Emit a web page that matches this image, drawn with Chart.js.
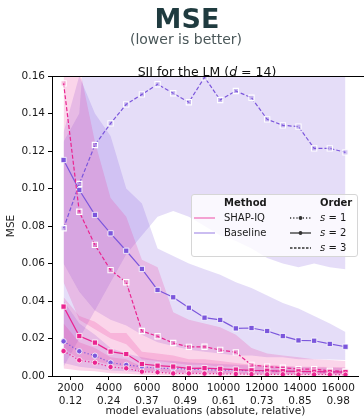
<!DOCTYPE html>
<html><head><meta charset="utf-8">
<script src="https://cdn.jsdelivr.net/npm/chart.js@4.4.1/dist/chart.umd.min.js"></script>
<style>
html,body{margin:0;padding:0;background:#fff;}
#wrap{position:relative;width:364px;height:416px;overflow:hidden;font-family:"DejaVu Sans",sans-serif;}
#c{position:absolute;left:0;top:0;}
.txt{position:absolute;white-space:nowrap;transform:translateX(-50%);line-height:1;}
#t1{left:187px;top:5px;font-size:27px;font-weight:bold;color:#1f3b3f;}
#t2{left:186px;top:32px;font-size:14px;color:#4a5759;}
#t3{left:207px;top:66px;font-size:12.5px;color:#111;}
#legend{position:absolute;left:191px;top:194px;width:167px;height:63px;box-sizing:border-box;background:rgba(255,255,255,0.8);border:1px solid #d6d6d6;border-radius:3px;font-size:10px;color:#1a1a1a;}
.li{position:absolute;white-space:nowrap;line-height:1;}
.hd{font-weight:bold;}
svg.smp{position:absolute;overflow:visible;}
</style></head>
<body><div id="wrap">
<canvas id="c" width="364" height="416"></canvas>
<div class="txt" id="t1">MSE</div>
<div class="txt" id="t2">(lower is better)</div>
<div class="txt" id="t3">SII for the LM (<i>d</i> = 14)</div>
<div id="legend"></div>
</div>
<script>
// ---------- data ----------
const budgets = [1638, 2458, 3277, 4096, 4915, 5734, 6554, 7373, 8192, 9011, 9830, 10650, 11469, 12288, 13107, 13926, 14746, 15565, 16384];
const xTickAbs = [2000, 4000, 6000, 8000, 10000, 12000, 14000, 16000];
const xTickRel = ['0.12', '0.24', '0.37', '0.49', '0.61', '0.73', '0.85', '0.98'];
const yTicks = [0, 0.02, 0.04, 0.06, 0.08, 0.10, 0.12, 0.14, 0.16];
const methods = ['SHAP-IQ', 'Baseline'];
const orders = ['1', '2', '3'];

const shapiqS1 = [0.0133, 0.0084, 0.0071, 0.0048, 0.0041, 0.0023, 0.0020, 0.0014, 0.0014, 0.0013, 0.0012, 0.0011, 0.0010, 0.0009, 0.0009, 0.0008, 0.0008, 0.0008, 0.0007];
const shapiqS2 = [0.0370, 0.0213, 0.0178, 0.0130, 0.0117, 0.0064, 0.0055, 0.0050, 0.0041, 0.0042, 0.0038, 0.0034, 0.0030, 0.0028, 0.0026, 0.0025, 0.0023, 0.0022, 0.0021];
const shapiqS3 = [0.1561, 0.0876, 0.0699, 0.0565, 0.0500, 0.0240, 0.0212, 0.0176, 0.0155, 0.0156, 0.0139, 0.0126, 0.0059, 0.0050, 0.0044, 0.0037, 0.0037, 0.0028, 0.0025];
const baselineS1 = [0.0185, 0.0132, 0.0108, 0.0071, 0.0059, 0.0050, 0.0041, 0.0041, 0.0036, 0.0034, 0.0032, 0.0030, 0.0028, 0.0026, 0.0025, 0.0024, 0.0023, 0.0022, 0.0022];
const baselineS2 = [0.1152, 0.0992, 0.0859, 0.0761, 0.0668, 0.0571, 0.0459, 0.0420, 0.0364, 0.0311, 0.0299, 0.0254, 0.0256, 0.0240, 0.0213, 0.0190, 0.0188, 0.0171, 0.0156];
const baselineS3 = [0.0788, 0.1024, 0.1232, 0.1347, 0.1449, 0.1502, 0.1556, 0.1508, 0.1460, 0.1593, 0.1472, 0.1520, 0.1484, 0.1369, 0.1337, 0.1330, 0.1214, 0.1214, 0.1193];

// uncertainty bands (lower / upper)
const shapiqS1Lo = [0.0040, 0.0030, 0.0025, 0.0015, 0.0012, 0.0007, 0.0006, 0.0004, 0.0004, 0.0004, 0.0003, 0.0003, 0.0003, 0.0003, 0.0003, 0.0002, 0.0002, 0.0002, 0.0002];
const shapiqS1Hi = [0.0280, 0.0180, 0.0150, 0.0100, 0.0090, 0.0050, 0.0045, 0.0035, 0.0030, 0.0030, 0.0028, 0.0025, 0.0022, 0.0020, 0.0020, 0.0018, 0.0018, 0.0017, 0.0016];
const shapiqS2Lo = [0.0150, 0.0090, 0.0080, 0.0060, 0.0050, 0.0030, 0.0025, 0.0020, 0.0018, 0.0018, 0.0016, 0.0015, 0.0013, 0.0012, 0.0011, 0.0011, 0.0010, 0.0010, 0.0009];
const shapiqS2Hi = [0.0420, 0.0320, 0.0290, 0.0230, 0.0230, 0.0130, 0.0120, 0.0110, 0.0090, 0.0090, 0.0080, 0.0070, 0.0060, 0.0060, 0.0055, 0.0050, 0.0050, 0.0048, 0.0045];
const shapiqS3Lo = [0.0500, 0.0300, 0.0250, 0.0200, 0.0170, 0.0090, 0.0080, 0.0070, 0.0060, 0.0060, 0.0050, 0.0050, 0.0025, 0.0020, 0.0018, 0.0015, 0.0014, 0.0012, 0.0010];
const shapiqS3Hi = [0.2500, 0.1650, 0.1250, 0.0950, 0.0850, 0.0620, 0.0580, 0.0340, 0.0300, 0.0280, 0.0260, 0.0220, 0.0150, 0.0120, 0.0110, 0.0100, 0.0090, 0.0085, 0.0080];
const baselineS1Lo = [0.0070, 0.0050, 0.0040, 0.0030, 0.0025, 0.0020, 0.0017, 0.0016, 0.0014, 0.0013, 0.0012, 0.0012, 0.0011, 0.0010, 0.0010, 0.0010, 0.0009, 0.0009, 0.0009];
const baselineS1Hi = [0.0400, 0.0280, 0.0220, 0.0150, 0.0120, 0.0100, 0.0085, 0.0080, 0.0072, 0.0068, 0.0064, 0.0060, 0.0056, 0.0052, 0.0050, 0.0048, 0.0046, 0.0044, 0.0044];
const baselineS2Lo = [0.0600, 0.0450, 0.0350, 0.0300, 0.0270, 0.0220, 0.0180, 0.0160, 0.0140, 0.0130, 0.0120, 0.0110, 0.0110, 0.0100, 0.0100, 0.0090, 0.0090, 0.0088, 0.0085];
const baselineS2Hi = [0.1300, 0.1600, 0.1400, 0.1280, 0.1000, 0.0920, 0.0680, 0.0640, 0.0600, 0.0570, 0.0540, 0.0500, 0.0470, 0.0430, 0.0390, 0.0360, 0.0320, 0.0280, 0.0235];
const baselineS3Lo = [0.0050, 0.0200, 0.0350, 0.0500, 0.0650, 0.0750, 0.0850, 0.0880, 0.0850, 0.0800, 0.0750, 0.0720, 0.0680, 0.0630, 0.0600, 0.0580, 0.0600, 0.0580, 0.0570];
const baselineS3Hi = [0.1250, 0.1400, 0.2500, 0.2500, 0.2500, 0.2500, 0.2500, 0.2500, 0.2500, 0.2500, 0.2500, 0.2500, 0.2500, 0.2500, 0.2500, 0.2500, 0.2500, 0.2500, 0.2500];

// ---------- styles ----------
const PINK = '#ea2490', PURPLE = '#7b56dc';
const PINK_BAND = 'rgba(236,45,149,0.2)', PURPLE_BAND = 'rgba(123,86,220,0.2)';
const orderStyle = {
  '1': {dash: [1.2, 2.2], point: 'circle', r: 2.7, hollow: false},
  '2': {dash: [], point: 'rect', r: 3.7, hollow: false},
  '3': {dash: [4, 2], point: 'rect', r: 3.7, hollow: true}
};

function pts(arr){ return budgets.map((b, i) => ({x: b, y: arr[i]})); }

const series = [
  {method: 'SHAP-IQ', order: '1', v: shapiqS1, lo: shapiqS1Lo, hi: shapiqS1Hi, c: PINK, band: PINK_BAND, fillRgb: 'rgba(236,45,149,0.3)'},
  {method: 'SHAP-IQ', order: '2', v: shapiqS2, lo: shapiqS2Lo, hi: shapiqS2Hi, c: PINK, band: PINK_BAND, fillRgb: 'rgba(236,45,149,0.3)'},
  {method: 'SHAP-IQ', order: '3', v: shapiqS3, lo: shapiqS3Lo, hi: shapiqS3Hi, c: PINK, band: PINK_BAND, fillRgb: 'rgba(236,45,149,0.3)'},
  {method: 'Baseline', order: '1', v: baselineS1, lo: baselineS1Lo, hi: baselineS1Hi, c: PURPLE, band: PURPLE_BAND, fillRgb: 'rgba(123,86,220,0.3)'},
  {method: 'Baseline', order: '2', v: baselineS2, lo: baselineS2Lo, hi: baselineS2Hi, c: PURPLE, band: PURPLE_BAND, fillRgb: 'rgba(123,86,220,0.3)'},
  {method: 'Baseline', order: '3', v: baselineS3, lo: baselineS3Lo, hi: baselineS3Hi, c: PURPLE, band: PURPLE_BAND, fillRgb: 'rgba(123,86,220,0.3)'}
];

const datasets = [];
// lines first (drawn on top)
series.forEach(s => {
  const st = orderStyle[s.order];
  datasets.push({
    label: s.method + ' s=' + s.order,
    data: pts(s.v),
    borderColor: s.c, borderWidth: 1.2, borderDash: st.dash,
    pointStyle: st.point, pointRadius: st.r,
    pointBackgroundColor: st.hollow ? s.fillRgb : s.c,
    pointBorderColor: '#ffffff', pointBorderWidth: st.hollow ? 1.1 : 0.8,
    fill: false, tension: 0, order: 0
  });
});
// bands
series.forEach(s => {
  const idx = datasets.length;
  datasets.push({label: 'lo', data: pts(s.lo), borderWidth: 0, pointRadius: 0, fill: false, order: 10 + idx});
  datasets.push({label: 'hi', data: pts(s.hi), borderWidth: 0, pointRadius: 0, backgroundColor: s.band, fill: idx, order: 10 + idx});
});

const spine = {
  id: 'spine',
  afterDraw(chart){
    const {ctx, chartArea: a} = chart;
    ctx.save();
    ctx.strokeStyle = '#000'; ctx.lineWidth = 1;
    ctx.beginPath(); ctx.moveTo(a.left, Math.round(a.top) + 0.5); ctx.lineTo(chart.width, Math.round(a.top) + 0.5); ctx.stroke();
    ctx.restore();
  }
};

const axisFont = {family: 'DejaVu Sans', size: 10.5, lineHeight: 1.2};
new Chart(document.getElementById('c'), {
  type: 'line',
  data: {datasets},
  options: {
    responsive: false, animation: false, devicePixelRatio: 1,
    layout: {padding: {top: 76, right: 2, left: 0, bottom: 0}},
    plugins: {legend: {display: false}, tooltip: {enabled: false}, title: {display: false}},
    scales: {
      x: {
        type: 'linear', min: 1031, max: 17087, position: 'bottom',
        afterBuildTicks: ax => { ax.ticks = xTickAbs.map(v => ({value: v})); },
        afterFit: ax => { ax.height = 40; },
        ticks: {autoSkip: false, maxRotation: 0, padding: 2, color: '#1a1a1a', font: axisFont,
          callback: (v, i) => [String(xTickAbs[i]), xTickRel[i]]},
        grid: {drawOnChartArea: false, drawTicks: true, tickLength: 4, color: '#000', lineWidth: 1},
        border: {display: true, color: '#000', width: 1},
        title: {display: true, text: 'model evaluations (absolute, relative)', color: '#1a1a1a',
          font: {family: 'DejaVu Sans', size: 10.5, lineHeight: 0.85}, padding: {top: 0, bottom: 0}}
      },
      y: {
        type: 'linear', min: 0, max: 0.16,
        afterBuildTicks: ax => { ax.ticks = yTicks.map(v => ({value: v})); },
        afterFit: ax => { ax.width = 52; },
        ticks: {padding: 3, color: '#1a1a1a', font: axisFont, callback: v => v.toFixed(2)},
        grid: {drawOnChartArea: false, drawTicks: true, tickLength: 4, color: '#000', lineWidth: 1},
        border: {display: true, color: '#000', width: 1},
        title: {display: true, text: 'MSE', color: '#1a1a1a', font: axisFont, padding: {top: 5, bottom: 0}}
      }
    }
  },
  plugins: [spine]
});

// ---------- legend (HTML) ----------
const lg = document.getElementById('legend');
const L0 = 191, T0 = 194;
function addText(html, x, y, cls){
  const d = document.createElement('div');
  d.className = 'li' + (cls ? ' ' + cls : '');
  d.innerHTML = html;
  d.style.left = (x - L0 - 1) + 'px';
  d.style.top = (y - T0 - 1 - 5) + 'px';
  lg.appendChild(d);
}
function addSample(x1, x2, y, color, dash, marker){
  const ns = 'http://www.w3.org/2000/svg';
  const s = document.createElementNS(ns, 'svg');
  s.setAttribute('class', 'smp');
  s.setAttribute('width', x2 - x1); s.setAttribute('height', 6);
  s.style.left = (x1 - L0 - 1) + 'px'; s.style.top = (y - T0 - 1 - 3) + 'px';
  const ln = document.createElementNS(ns, 'line');
  ln.setAttribute('x1', 0); ln.setAttribute('x2', x2 - x1); ln.setAttribute('y1', 3); ln.setAttribute('y2', 3);
  ln.setAttribute('stroke', color); ln.setAttribute('stroke-width', 1.3);
  if (dash) ln.setAttribute('stroke-dasharray', dash);
  s.appendChild(ln);
  if (marker){
    const c = document.createElementNS(ns, 'circle');
    c.setAttribute('cx', (x2 - x1) / 2); c.setAttribute('cy', 3); c.setAttribute('r', 1.9);
    c.setAttribute('fill', color);
    s.appendChild(c);
  }
  lg.appendChild(s);
}
addText('Method', 224, 203, 'hd');
addText('Order', 320, 203, 'hd');
const methodColors = ['rgba(236,45,149,0.65)', 'rgba(123,86,220,0.6)'];
methods.forEach((m, i) => {
  const y = 218 + i * 15;
  addSample(194, 215, y, methodColors[i], null, false);
  addText(m, 224, y);
});
const orderDash = ['1.2 2', null, '2.5 1.5'];
const orderMarker = [true, true, false];
orders.forEach((o, i) => {
  const y = 218 + i * 15;
  addSample(290, 311, y, '#333', orderDash[i], orderMarker[i]);
  addText('<i>s</i> = ' + o, 320, y);
});
</script>
</body></html>
